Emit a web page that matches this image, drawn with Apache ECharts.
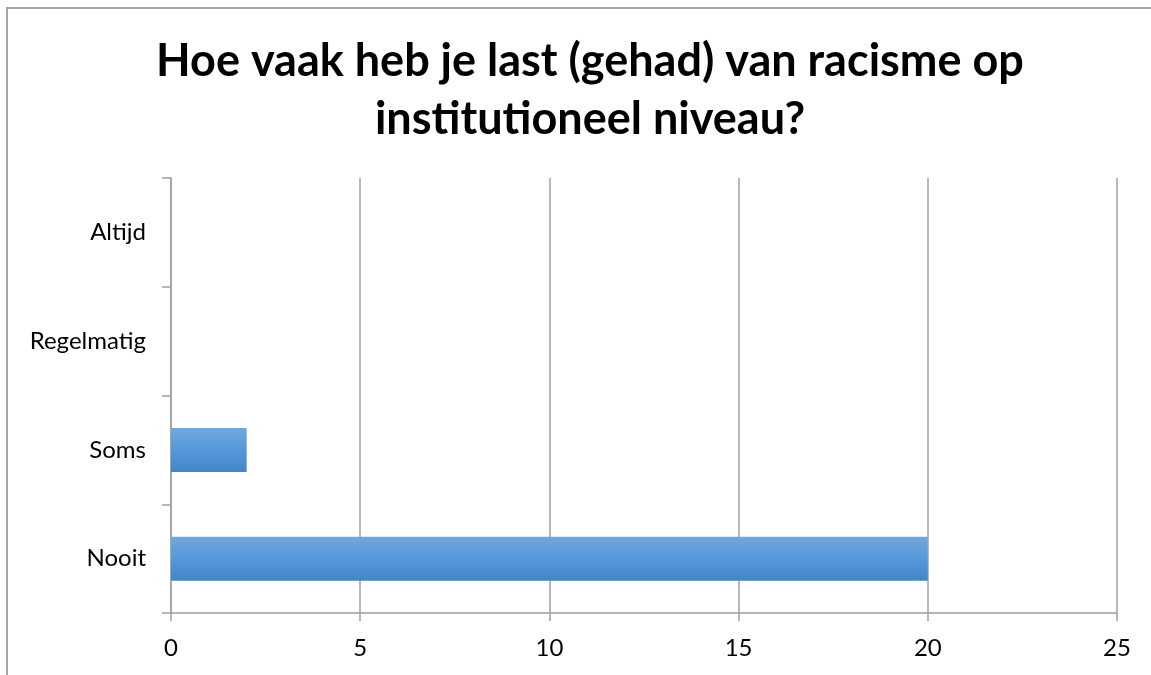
<!DOCTYPE html>
<html><head><meta charset="utf-8">
<script src="https://cdn.jsdelivr.net/npm/echarts@6/dist/echarts.min.js"></script>
<style>html,body{margin:0;padding:0;background:#fff}#c{width:1151px;height:675px}</style>
</head><body><div id="c"></div>
<script>
const titleText = 'Hoe vaak heb je last (gehad) van racisme op\ninstitutioneel niveau?';
const categories = ['Nooit', 'Soms', 'Regelmatig', 'Altijd'];
const values = [20, 2, 0, 0];
const xTicks = [0, 5, 10, 15, 20, 25];

const chart = echarts.init(document.getElementById('c'), null, {renderer: 'canvas'});
const font = 'Lato, "Liberation Sans", sans-serif';
chart.setOption({
  backgroundColor: '#fff',
  animation: false,
  graphic: [{
    type: 'rect', shape: {x: 7, y: 8, width: 1200, height: 700},
    style: {fill: 'none', stroke: '#a6a6a6', lineWidth: 2}, silent: true
  }],
  title: {
    text: titleText, left: 585, top: 27, textAlign: 'center',
    textStyle: {fontFamily: font, fontWeight: 'bold', fontSize: 45, lineHeight: 58, color: '#000', align: 'center'}
  },
  grid: {left: 171, right: 34, top: 178, bottom: 62, containLabel: false},
  xAxis: {
    type: 'value', min: xTicks[0], max: xTicks[xTicks.length - 1], interval: 5,
    axisLine: {show: true, lineStyle: {color: '#a0a0a0', width: 1.5}},
    axisTick: {show: true, length: 8, lineStyle: {color: '#a0a0a0', width: 1.5}},
    splitLine: {show: true, lineStyle: {color: '#a0a0a0', width: 1.5}},
    axisLabel: {color: '#000', fontFamily: font, fontSize: 24, margin: 23}
  },
  yAxis: {
    type: 'category', data: categories,
    axisLine: {show: true, lineStyle: {color: '#a0a0a0', width: 1.5}},
    axisTick: {show: true, length: 9, lineStyle: {color: '#a0a0a0', width: 1.5}},
    splitLine: {show: false},
    axisLabel: {color: '#000', fontFamily: font, fontSize: 24, margin: 25}
  },
  series: [{
    type: 'bar', data: values, barWidth: 44,
    itemStyle: {color: new echarts.graphic.LinearGradient(0, 0, 0, 1, [
      {offset: 0, color: '#72a7dd'}, {offset: 0.5, color: '#5699db'}, {offset: 1, color: '#4385c6'}
    ])}
  }]
});
</script></body></html>
